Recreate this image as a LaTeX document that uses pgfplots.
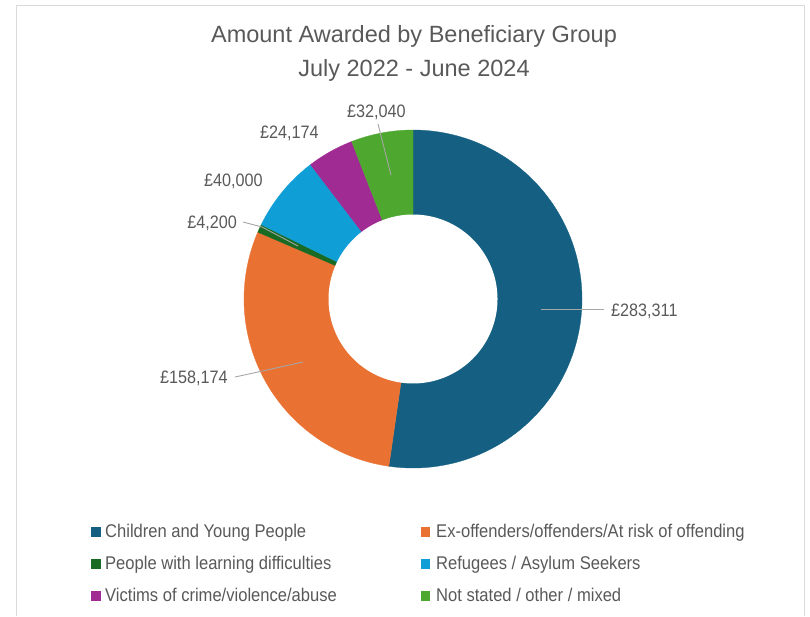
\documentclass[border=0pt]{standalone}
\usepackage{fontspec}
\setmainfont{Liberation Sans}
\newfontfamily\nfont{Liberation Sans}[FakeStretch=0.9]
\usepackage{pgfplots}
\pgfplotsset{compat=1.18}
\definecolor{cA}{HTML}{156082}
\definecolor{cB}{HTML}{E97132}
\definecolor{cC}{HTML}{196B24}
\definecolor{cD}{HTML}{0F9ED5}
\definecolor{cE}{HTML}{A02B93}
\definecolor{cF}{HTML}{4EA72E}
\definecolor{txt}{HTML}{595959}
\definecolor{lead}{HTML}{A6A6A6}
\definecolor{frame}{HTML}{D9D9D9}
% data (GBP)
\def\vA{283311}% Children and Young People
\def\vB{158174}% Ex-offenders
\def\vC{4200}%   Learning difficulties
\def\vD{40000}%  Refugees
\def\vE{24174}%  Victims
\def\vF{32040}%  Not stated
\edef\T{\fpeval{\vA+\vB+\vC+\vD+\vE+\vF}}
\edef\bA{\fpeval{90-360*\vA/\T}}
\edef\bB{\fpeval{\bA-360*\vB/\T}}
\edef\bC{\fpeval{\bB-360*\vC/\T}}
\edef\bD{\fpeval{\bC-360*\vD/\T}}
\edef\bE{\fpeval{\bD-360*\vE/\T}}
\edef\bF{\fpeval{\bE-360*\vF/\T}}
\begin{document}
\begin{tikzpicture}[x=1bp,y=-1bp]
\path (0,0) rectangle (810,615);
\draw[frame,line width=0.8bp] (16,616) -- (16,5) -- (804,5) -- (804,616);
\begin{axis}[at={(413bp,-299bp)}, anchor=center, x=169bp, y=169bp,
  xmin=-1, xmax=1, ymin=-1, ymax=1, hide axis, clip=false]
\addplot[fill=cA, draw=cA, line width=0.3bp, domain=\bA:90, samples=150, variable=\t] ({cos(\t)},{sin(\t)}) -- (axis cs:0,0) -- cycle;
\addplot[fill=cB, draw=cB, line width=0.3bp, domain=\bB:\bA, samples=100, variable=\t] ({cos(\t)},{sin(\t)}) -- (axis cs:0,0) -- cycle;
\addplot[fill=cC, draw=cC, line width=0.3bp, domain=\bC:\bB, samples=10, variable=\t] ({cos(\t)},{sin(\t)}) -- (axis cs:0,0) -- cycle;
\addplot[fill=cD, draw=cD, line width=0.3bp, domain=\bD:\bC, samples=40, variable=\t] ({cos(\t)},{sin(\t)}) -- (axis cs:0,0) -- cycle;
\addplot[fill=cE, draw=cE, line width=0.3bp, domain=\bE:\bD, samples=30, variable=\t] ({cos(\t)},{sin(\t)}) -- (axis cs:0,0) -- cycle;
\addplot[fill=cF, draw=cF, line width=0.3bp, domain=\bF:\bE, samples=30, variable=\t] ({cos(\t)},{sin(\t)}) -- (axis cs:0,0) -- cycle;
\addplot[fill=white, draw=none, domain=0:360, samples=200, variable=\t] ({0.5*cos(\t)},{0.5*sin(\t)}) -- cycle;
\end{axis}
% title
\node[anchor=base, text=txt, font=\fontsize{23.5bp}{28bp}\selectfont, inner sep=0] at (414,43) {Amount Awarded by Beneficiary Group};
\node[anchor=base, text=txt, font=\fontsize{23.5bp}{28bp}\selectfont, inner sep=0] at (414,77) {July 2022 - June 2024};
% leader lines
\draw[lead, line width=0.9bp] (541,309) -- (604,309);
\draw[lead, line width=0.9bp] (303,362) -- (258,372) -- (235,377);
\draw[lead, line width=0.9bp] (298,246) -- (262,227) -- (243,222);
\draw[lead, line width=0.9bp] (391,175) -- (378,124);
% data labels
\begin{scope}[every node/.style={text=txt, font=\nfont\fontsize{18bp}{20bp}\selectfont, inner sep=0}]
\node[anchor=base west] at (611,316) {£283,311};
\node[anchor=base west] at (160,383) {£158,174};
\node[anchor=base east] at (237,229) {£4,200};
\node[anchor=base west] at (204,187) {£40,000};
\node[anchor=base west] at (260,139) {£24,174};
\node[anchor=base west] at (347,118) {£32,040};
\end{scope}
% legend
\begin{scope}[every node/.style={text=txt, font=\nfont\fontsize{18.4bp}{20bp}\selectfont, inner sep=0}]
\fill[cA] (91,527) rectangle (100.5,536.5);
\node[anchor=base west] at (105,537) {Children and Young People};
\fill[cC] (91,559) rectangle (100.5,568.5);
\node[anchor=base west] at (105,569) {People with learning difficulties};
\fill[cE] (91,591) rectangle (100.5,600.5);
\node[anchor=base west] at (105,601) {Victims of crime/violence/abuse};
\fill[cB] (420.5,527) rectangle (430,536.5);
\node[anchor=base west] at (436,537) {Ex-offenders/offenders/At risk of offending};
\fill[cD] (420.5,559) rectangle (430,568.5);
\node[anchor=base west] at (436,569) {Refugees / Asylum Seekers};
\fill[cF] (420.5,591) rectangle (430,600.5);
\node[anchor=base west] at (436,601) {Not stated / other / mixed};
\end{scope}
\end{tikzpicture}
\end{document}
